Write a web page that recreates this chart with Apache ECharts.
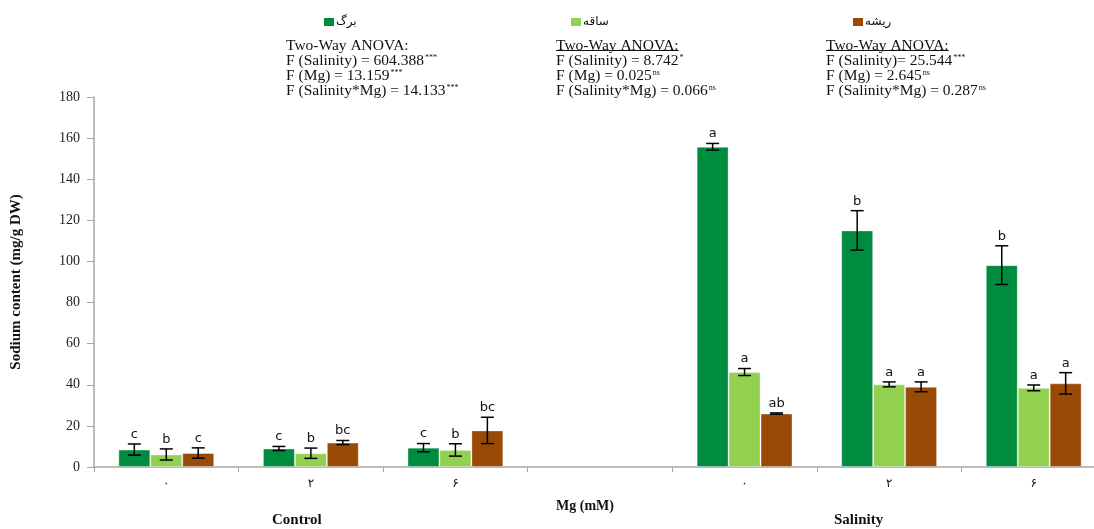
<!DOCTYPE html>
<html>
<head>
<meta charset="utf-8">
<script src="https://cdn.jsdelivr.net/npm/echarts@6/dist/echarts.min.js"></script>
<style>html,body{margin:0;padding:0;background:#fff;overflow:hidden}#c{width:1107px;height:529px}</style>
</head>
<body>
<div id="c"></div>
<script>
// ---- data ----
const categories = ['\u06F0', '\u06F2', '\u06F6', '', '\u06F0', '\u06F2', '\u06F6'];
const seriesNames = ['برگ', 'ساقه', 'ریشه'];
const leaf    = [8.5, 9.0, 9.4, null, 155.8, 115.1, 98.2];
const leafErr = [2.7, 1.0, 2.0, null, 1.6, 9.6, 9.4];
const stem    = [6.1, 6.7, 8.3, null, 46.2, 40.2, 38.5];
const stemErr = [2.7, 2.5, 3.0, null, 1.7, 1.2, 1.4];
const root    = [6.8, 11.9, 17.8, null, 26.0, 39.0, 40.7];
const rootErr = [2.5, 1.0, 6.4, null, 0.3, 2.4, 5.2];
const leafLetters = ['c', 'c', 'c', '', 'a', 'b', 'b'];
const stemLetters = ['b', 'b', 'b', '', 'a', 'a', 'a'];
const rootLetters = ['c', 'bc', 'bc', '', 'ab', 'a', 'a'];
const yTicks = { min: 0, max: 180, interval: 20 };
const anova = [
  { title: 'Two-Way ANOVA:', underline: false, rows: [['F (Salinity) = 604.388', '***'], ['F (Mg) = 13.159', '***'], ['F (Salinity*Mg) = 14.133', '***']] },
  { title: 'Two-Way ANOVA:', underline: true,  rows: [['F (Salinity) = 8.742', '*'], ['F (Mg) = 0.025', 'ns'], ['F (Salinity*Mg) = 0.066', 'ns']] },
  { title: 'Two-Way ANOVA:', underline: true,  rows: [['F (Salinity)= 25.544', '***'], ['F (Mg) = 2.645', 'ns'], ['F (Salinity*Mg) = 0.287', 'ns']] }
];
const xAxisTitle = 'Mg (mM)';
const groupTitles = ['Control', 'Salinity'];
const yAxisTitle = 'Sodium content (mg/g DW)';

// ---- styles ----
const colors = ['#008C3E', '#92D050', '#994A06'];
const BAR_FRAC = 0.221;
const serif = '"Liberation Serif", "Times New Roman", serif';
const ANOVA_FS = 15.5;

const chart = echarts.init(document.getElementById('c'), null, { renderer: 'canvas' });

const means = [leaf, stem, root];
const letters = [leafLetters, stemLetters, rootLetters];

const errData = [];
for (let i = 0; i < categories.length; i++) {
  if (leaf[i] == null) continue;
  errData.push([i, leaf[i], leafErr[i], stem[i], stemErr[i], root[i], rootErr[i]]);
}

function renderErr(params, api) {
  const i = api.value(0);
  const band = api.size([1, 0])[0];
  const bw = band * BAR_FRAC;
  const children = [];
  const cap = 6.5;
  for (let k = 0; k < 3; k++) {
    const m = api.value(1 + 2 * k), e = api.value(2 + 2 * k);
    const x = api.coord([i, 0])[0] + (k - 1) * bw;
    const yT = api.coord([i, m + e])[1];
    const yB = api.coord([i, m - e])[1];
    const ls = { stroke: '#000', lineWidth: 1.5 };
    children.push({ type: 'line', shape: { x1: x, y1: yT, x2: x, y2: yB }, style: ls });
    children.push({ type: 'line', shape: { x1: x - cap, y1: yT, x2: x + cap, y2: yT }, style: ls });
    children.push({ type: 'line', shape: { x1: x - cap, y1: yB, x2: x + cap, y2: yB }, style: ls });
    children.push({ type: 'text', style: { text: letters[k][i], x: x, y: yT - 3, align: 'center', verticalAlign: 'bottom', fontSize: 13, fontFamily: '"DejaVu Sans", sans-serif', fill: '#111' } });
  }
  return { type: 'group', children: children };
}

// measure text width for underline
const mctx = document.createElement('canvas').getContext('2d');
mctx.font = ANOVA_FS + 'px ' + serif;

const anovaLeft = [286, 556, 826];
const anovaTop = 38;
const graphics = [];
anova.forEach((b, j) => {
  let txt = '{t|' + b.title + '}';
  b.rows.forEach(r => { txt += '\n{t|' + r[0] + '}{s|' + r[1] + '}'; });
  graphics.push({
    type: 'text', left: anovaLeft[j], top: anovaTop,
    style: {
      text: txt, fill: '#111',
      rich: {
        t: { fontSize: ANOVA_FS, fontFamily: serif, lineHeight: 15, fill: '#111' },
        s: { fontSize: 8, fontFamily: serif, lineHeight: 15, verticalAlign: 'top', fill: '#111', padding: [0, 0, 0, 1] }
      }
    }
  });
  if (b.underline) {
    const w = mctx.measureText(b.title).width;
    graphics.push({ type: 'line', shape: { x1: anovaLeft[j], y1: anovaTop + 12.5, x2: anovaLeft[j] + w, y2: anovaTop + 12.5 }, style: { stroke: '#111', lineWidth: 1 } });
  }
});
graphics.push({ type: 'text', left: 556, top: 499, style: { text: xAxisTitle, fontSize: 14, fontWeight: 'bold', fontFamily: serif, fill: '#111' } });
graphics.push({ type: 'text', left: 272, top: 513, style: { text: groupTitles[0], fontSize: 15, fontWeight: 'bold', fontFamily: serif, fill: '#111' } });
graphics.push({ type: 'text', left: 834, top: 513, style: { text: groupTitles[1], fontSize: 15, fontWeight: 'bold', fontFamily: serif, fill: '#111' } });

const legendLefts = [319, 566, 848];
const option = {
  animation: false,
  color: colors,
  legend: seriesNames.map((n, k) => ({
    data: [n], left: legendLefts[k], top: 11, itemWidth: 10, itemHeight: 8, icon: 'rect',
    itemStyle: { borderWidth: 0 },
    textStyle: { fontSize: 12, fontFamily: '"DejaVu Sans", sans-serif', color: '#111', padding: [0, 0, 0, -3] }
  })),
  grid: { left: 94, top: 97, right: 1, bottom: 62, containLabel: false },
  xAxis: {
    type: 'category', data: categories, boundaryGap: true,
    axisLine: { lineStyle: { color: '#a6a6a6', width: 1.5 } },
    axisTick: { show: true, alignWithLabel: false, length: 5, lineStyle: { color: '#a6a6a6' } },
    axisLabel: { margin: 11, fontSize: 12, fontFamily: '"DejaVu Sans", sans-serif', color: '#111' },
    splitLine: { show: false }
  },
  yAxis: {
    type: 'value', min: yTicks.min, max: yTicks.max, interval: yTicks.interval,
    name: yAxisTitle, nameLocation: 'middle', nameGap: 70, nameRotate: 90,
    nameTextStyle: { fontSize: 15, fontWeight: 'bold', fontFamily: serif, color: '#111' },
    axisLine: { show: true, lineStyle: { color: '#a6a6a6', width: 1.5 } },
    axisTick: { show: true, length: 7, inside: false, lineStyle: { color: '#a6a6a6' } },
    axisLabel: { margin: 14, fontSize: 14, fontFamily: serif, color: '#222' },
    splitLine: { show: false }
  },
  series: [
    ...seriesNames.map((n, k) => ({
      name: n, type: 'bar', data: means[k], barWidth: (BAR_FRAC * 100) + '%', barGap: '0%',
      itemStyle: { color: colors[k], borderColor: 'rgba(255,255,255,0.35)', borderWidth: 1 }
    })),
    { type: 'custom', renderItem: renderErr, data: errData, z: 10, silent: true,
      encode: { x: 0, y: 1 } }
  ],
  graphic: graphics
};
chart.setOption(option);
</script>
</body>
</html>
